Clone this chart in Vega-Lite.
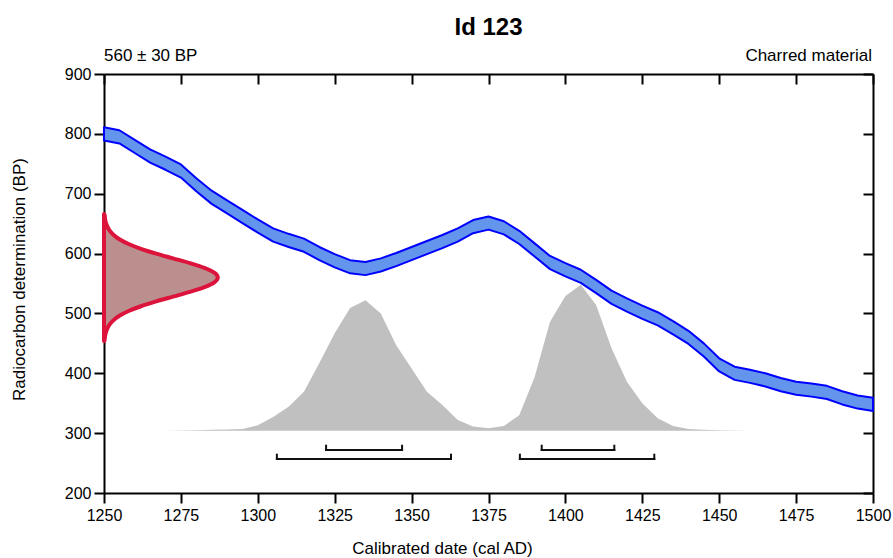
{
  "$schema": "https://vega.github.io/schema/vega-lite/v6.json",
  "width": 769,
  "height": 419,
  "autosize": "none",
  "padding": {"left": 104, "top": 74, "right": 20, "bottom": 65},
  "config": {
    "font": "Liberation Sans",
    "view": {"stroke": null},
    "axis": {
      "grid": false,
      "domainColor": "#000000",
      "domainWidth": 2,
      "tickColor": "#000000",
      "tickWidth": 2,
      "tickSize": 10,
      "labelColor": "#000000",
      "labelFont": "Liberation Sans",
      "labelFontSize": 16,
      "labelFlush": false,
      "labelOverlap": false,
      "titleFont": "Liberation Sans",
      "titleFontSize": 17,
      "titleFontWeight": "normal",
      "titleColor": "#000000"
    }
  },
  "title": {"text": "Id 123", "fontSize": 24, "fontWeight": "bold", "font": "Liberation Sans", "color": "#000000", "offset": 7, "anchor": "middle"},
  "datasets": {
    "curve": [
      {"year": 1250, "hi": 811, "lo": 789}, {"year": 1255, "hi": 806, "lo": 784}, {"year": 1260, "hi": 790, "lo": 768},
      {"year": 1265, "hi": 774, "lo": 752}, {"year": 1270, "hi": 762, "lo": 740}, {"year": 1275, "hi": 749, "lo": 727},
      {"year": 1280, "hi": 726, "lo": 704}, {"year": 1285, "hi": 705, "lo": 683}, {"year": 1290, "hi": 689, "lo": 667},
      {"year": 1295, "hi": 673, "lo": 651}, {"year": 1300, "hi": 657, "lo": 635}, {"year": 1305, "hi": 642, "lo": 620},
      {"year": 1310, "hi": 633, "lo": 611}, {"year": 1315, "hi": 625, "lo": 603}, {"year": 1320, "hi": 611, "lo": 589},
      {"year": 1325, "hi": 599, "lo": 577}, {"year": 1330, "hi": 589, "lo": 567}, {"year": 1335, "hi": 586, "lo": 564},
      {"year": 1340, "hi": 592, "lo": 570}, {"year": 1345, "hi": 601, "lo": 579}, {"year": 1350, "hi": 611, "lo": 589},
      {"year": 1355, "hi": 621, "lo": 599}, {"year": 1360, "hi": 631, "lo": 609}, {"year": 1365, "hi": 642, "lo": 620},
      {"year": 1370, "hi": 656, "lo": 634}, {"year": 1375, "hi": 662, "lo": 640}, {"year": 1380, "hi": 654, "lo": 632},
      {"year": 1385, "hi": 638, "lo": 616}, {"year": 1390, "hi": 617, "lo": 595}, {"year": 1395, "hi": 596, "lo": 574},
      {"year": 1400, "hi": 584, "lo": 562}, {"year": 1405, "hi": 573, "lo": 551}, {"year": 1410, "hi": 556, "lo": 534},
      {"year": 1415, "hi": 538, "lo": 516}, {"year": 1420, "hi": 525, "lo": 503}, {"year": 1425, "hi": 513, "lo": 491},
      {"year": 1430, "hi": 502, "lo": 480}, {"year": 1435, "hi": 487, "lo": 465}, {"year": 1440, "hi": 471, "lo": 449},
      {"year": 1445, "hi": 450, "lo": 428}, {"year": 1450, "hi": 425, "lo": 403}, {"year": 1455, "hi": 411, "lo": 389},
      {"year": 1460, "hi": 406, "lo": 384}, {"year": 1465, "hi": 400, "lo": 378}, {"year": 1470, "hi": 392, "lo": 370},
      {"year": 1475, "hi": 386, "lo": 364}, {"year": 1480, "hi": 383, "lo": 361}, {"year": 1485, "hi": 379, "lo": 357},
      {"year": 1490, "hi": 370, "lo": 348}, {"year": 1495, "hi": 363, "lo": 341}, {"year": 1500, "hi": 359, "lo": 337}
    ],
    "calibrated": [
      {"year": 1265, "bp": 304}, {"year": 1270, "bp": 304.2}, {"year": 1275, "bp": 304.5}, {"year": 1280, "bp": 305},
      {"year": 1285, "bp": 305.5}, {"year": 1290, "bp": 306}, {"year": 1295, "bp": 307}, {"year": 1300, "bp": 313},
      {"year": 1305, "bp": 327}, {"year": 1310, "bp": 344}, {"year": 1315, "bp": 369}, {"year": 1320, "bp": 417},
      {"year": 1325, "bp": 467}, {"year": 1330, "bp": 509}, {"year": 1335, "bp": 522}, {"year": 1340, "bp": 500},
      {"year": 1345, "bp": 447}, {"year": 1350, "bp": 408}, {"year": 1355, "bp": 369}, {"year": 1360, "bp": 347},
      {"year": 1365, "bp": 322}, {"year": 1370, "bp": 311}, {"year": 1375, "bp": 308}, {"year": 1380, "bp": 312},
      {"year": 1385, "bp": 330}, {"year": 1390, "bp": 394}, {"year": 1395, "bp": 486}, {"year": 1400, "bp": 529},
      {"year": 1405, "bp": 548}, {"year": 1410, "bp": 514}, {"year": 1415, "bp": 442}, {"year": 1420, "bp": 386},
      {"year": 1425, "bp": 350}, {"year": 1430, "bp": 325}, {"year": 1435, "bp": 312}, {"year": 1440, "bp": 307},
      {"year": 1445, "bp": 305.5}, {"year": 1450, "bp": 305}, {"year": 1455, "bp": 304.5}, {"year": 1460, "bp": 304.2},
      {"year": 1465, "bp": 304}
    ],
    "measurement": [
      {"bp": 454, "year": 1250.1}, {"bp": 456, "year": 1250.19}, {"bp": 464, "year": 1250.41}, {"bp": 472, "year": 1250.84},
      {"bp": 480, "year": 1251.62}, {"bp": 488, "year": 1252.95}, {"bp": 496, "year": 1255.01}, {"bp": 504, "year": 1258.0},
      {"bp": 512, "year": 1262.01}, {"bp": 520, "year": 1266.94}, {"bp": 528, "year": 1272.44}, {"bp": 536, "year": 1277.93},
      {"bp": 544, "year": 1282.65}, {"bp": 552, "year": 1285.86}, {"bp": 560, "year": 1287.0}, {"bp": 568, "year": 1285.86},
      {"bp": 576, "year": 1282.65}, {"bp": 584, "year": 1277.93}, {"bp": 592, "year": 1272.44}, {"bp": 600, "year": 1266.94},
      {"bp": 608, "year": 1262.01}, {"bp": 616, "year": 1258.0}, {"bp": 624, "year": 1255.01}, {"bp": 632, "year": 1252.95},
      {"bp": 640, "year": 1251.62}, {"bp": 648, "year": 1250.84}, {"bp": 656, "year": 1250.41}, {"bp": 664, "year": 1250.19},
      {"bp": 666, "year": 1250.1}
    ],
    "ranges": [
      {"start": 1306.2, "end": 1362.8, "level": 257, "cap": 264},
      {"start": 1322.2, "end": 1346.9, "level": 272, "cap": 279},
      {"start": 1385.2, "end": 1428.9, "level": 257, "cap": 264},
      {"start": 1392.3, "end": 1415.9, "level": 272, "cap": 279}
    ]
  },
  "layer": [
    {
      "data": {"name": "calibrated"},
      "mark": {"type": "area", "color": "#c0c0c0", "opacity": 1},
      "encoding": {
        "x": {"field": "year", "type": "quantitative", "scale": {"domain": [1250, 1500], "nice": false, "zero": false},
              "axis": {"orient": "bottom", "values": [1250, 1275, 1300, 1325, 1350, 1375, 1400, 1425, 1450, 1475, 1500], "format": "d", "title": "Calibrated date (cal AD)", "labelPadding": 4, "titlePadding": 17, "titleX": 338}},
        "y": {"field": "bp", "type": "quantitative", "scale": {"domain": [200, 900], "nice": false, "zero": false},
              "axis": {"orient": "left", "values": [200, 300, 400, 500, 600, 700, 800, 900], "title": "Radiocarbon determination (BP)", "labelPadding": 3, "titlePadding": 36, "titleY": 205}},
        "y2": {"datum": 304}
      }
    },
    {
      "data": {"name": "ranges"},
      "mark": {"type": "rule", "color": "#111111", "strokeWidth": 2, "strokeCap": "square"},
      "encoding": {
        "x": {"field": "start", "type": "quantitative", "axis": null},
        "x2": {"field": "end"},
        "y": {"field": "level", "type": "quantitative", "axis": null}
      }
    },
    {
      "data": {"name": "ranges"},
      "transform": [{"fold": ["start", "end"], "as": ["side", "edge"]}],
      "mark": {"type": "rule", "color": "#111111", "strokeWidth": 2, "strokeCap": "square"},
      "encoding": {
        "x": {"field": "edge", "type": "quantitative", "axis": null},
        "y": {"field": "level", "type": "quantitative", "axis": null},
        "y2": {"field": "cap"}
      }
    },
    {
      "data": {"name": "measurement"},
      "mark": {"type": "area", "orient": "horizontal", "interpolate": "monotone", "fill": "#bc8f8f", "fillOpacity": 1, "stroke": "#dc143c", "strokeWidth": 4, "strokeJoin": "round"},
      "encoding": {
        "y": {"field": "bp", "type": "quantitative", "axis": null},
        "x": {"field": "year", "type": "quantitative", "axis": null},
        "x2": {"datum": 1250}
      }
    },
    {
      "data": {"name": "curve"},
      "mark": {"type": "area", "fill": "#6495ed", "fillOpacity": 1, "stroke": "#0000ff", "strokeWidth": 2, "strokeJoin": "round"},
      "encoding": {
        "x": {"field": "year", "type": "quantitative",
              "axis": {"orient": "top", "values": [1250, 1275, 1300, 1325, 1350, 1375, 1400, 1425, 1450, 1475, 1500], "labels": false, "tickSize": -10, "title": null}},
        "y": {"field": "hi", "type": "quantitative",
              "axis": {"orient": "right", "values": [200, 300, 400, 500, 600, 700, 800, 900], "labels": false, "tickSize": -10, "title": null}},
        "y2": {"field": "lo"}
      }
    },
    {
      "data": {"values": [{"label": "560 ± 30 BP"}]},
      "mark": {"type": "text", "align": "left", "baseline": "alphabetic", "dy": -13, "fontSize": 17, "font": "Liberation Sans", "color": "#000000"},
      "encoding": {
        "x": {"datum": 1250, "axis": null},
        "y": {"datum": 900, "axis": null},
        "text": {"field": "label"}
      }
    },
    {
      "data": {"values": [{"label": "Charred material"}]},
      "mark": {"type": "text", "align": "right", "baseline": "alphabetic", "dy": -13, "dx": -1, "fontSize": 17, "font": "Liberation Sans", "color": "#000000"},
      "encoding": {
        "x": {"datum": 1500, "axis": null},
        "y": {"datum": 900, "axis": null},
        "text": {"field": "label"}
      }
    }
  ],
  "resolve": {"axis": {"x": "independent", "y": "independent"}}
}
